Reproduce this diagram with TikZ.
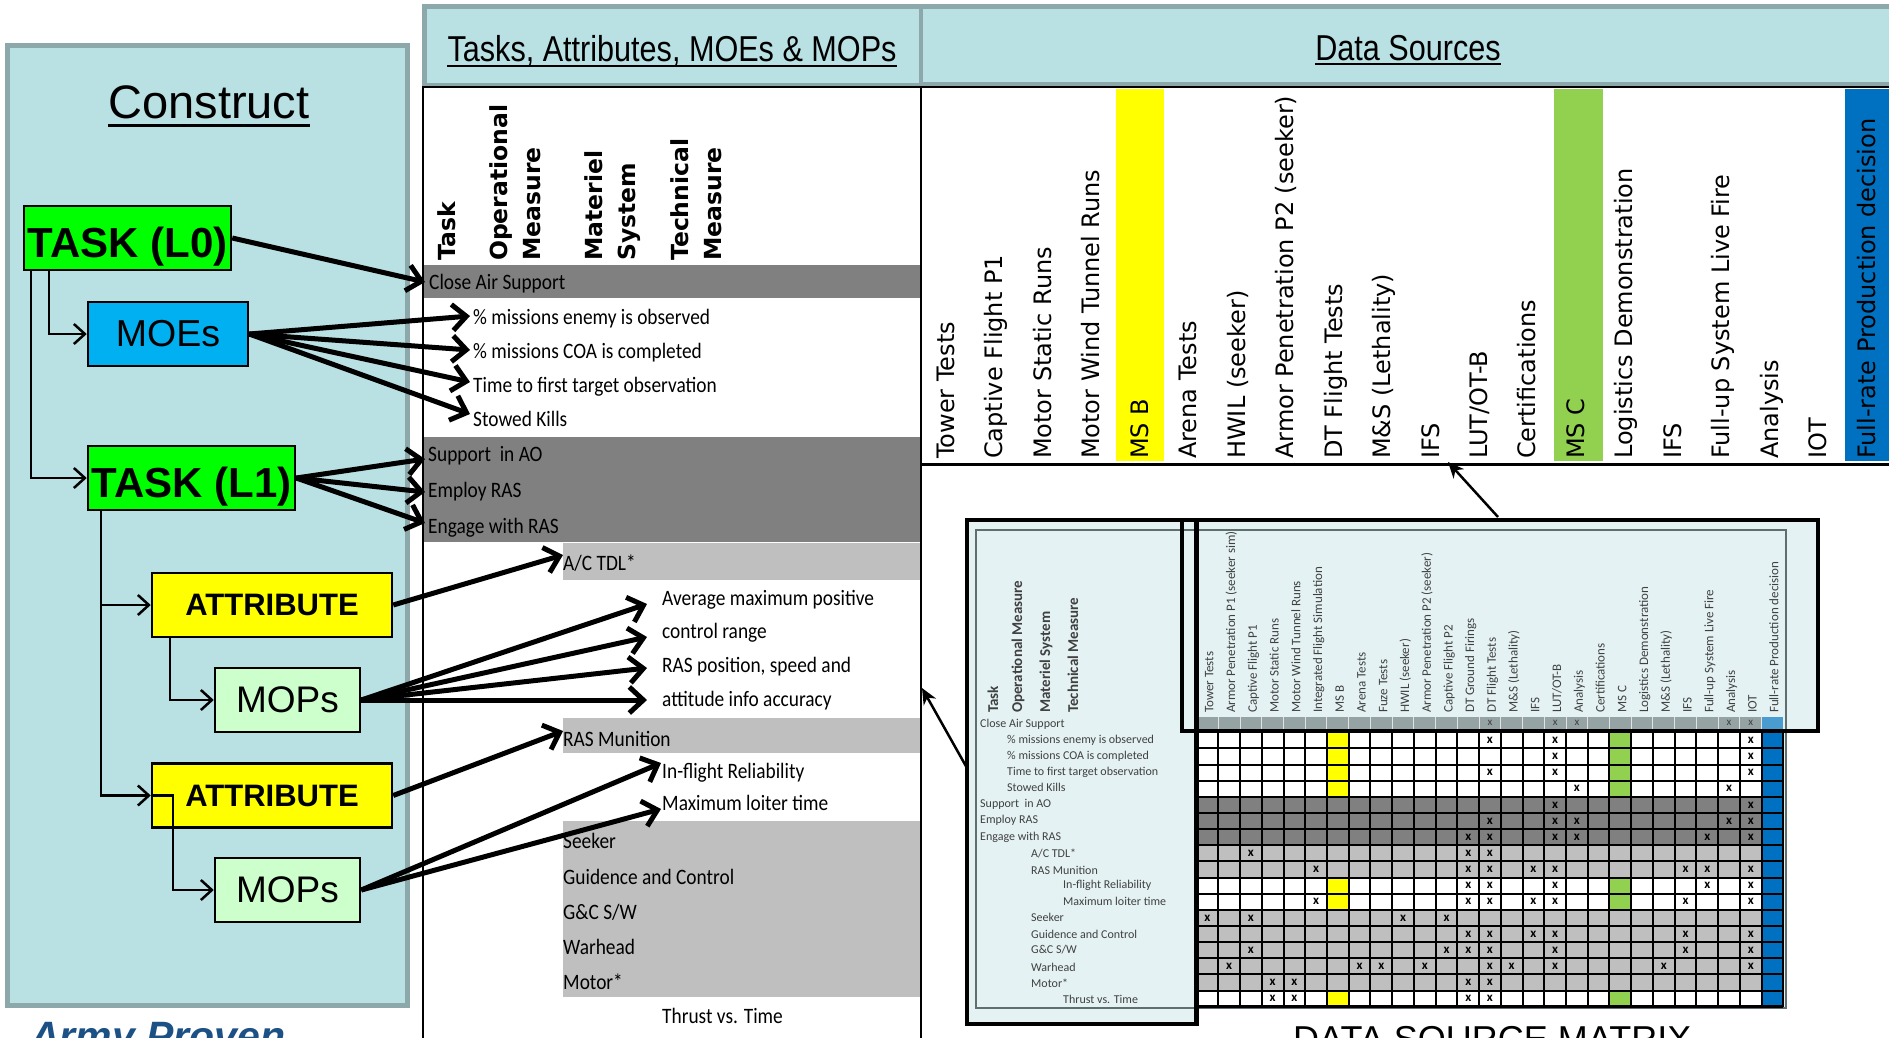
\documentclass[tikz,border=0pt]{standalone}
\usepackage{fontspec}
\setmainfont{Liberation Sans}
\newfontfamily\narrowfont[FakeStretch=0.85]{Liberation Sans}
\newfontfamily\listfont[FakeStretch=0.88]{Carlito}
\newfontfamily\calfont{Carlito}
\newfontfamily\dvfont{DejaVu Sans}
\usetikzlibrary{arrows.meta}
\newcommand\fsz[1]{\fontsize{#1pt}{#1pt}\selectfont}
\definecolor{panelbg}{HTML}{B9E0E3}
\definecolor{panelbd}{HTML}{8DA8AA}
\definecolor{boxgreen}{HTML}{00FF00}
\definecolor{boxblue}{HTML}{00B0F0}
\definecolor{boxyellow}{HTML}{FFFF00}
\definecolor{boxmint}{HTML}{CCFFCC}
\definecolor{dgray}{HTML}{808080}
\definecolor{lgray}{HTML}{BFBFBF}
\definecolor{mbg}{HTML}{E4F2F3}
\definecolor{mbd}{HTML}{5F6F6F}
\definecolor{msc}{HTML}{92D050}
\definecolor{frblue}{HTML}{0070C0}
\definecolor{hdrgray}{HTML}{95A3A4}
\definecolor{hdrblue}{HTML}{4A9BD0}
\definecolor{mtext}{HTML}{404040}
\definecolor{armyblue}{HTML}{1C5185}
\tikzset{
  cbox/.style={draw=black, line width=2.5pt, inner sep=0pt, minimum height=64pt},
  treearrow/.style={line width=2.5pt, -{Straight Barb[length=11pt,width=20pt]}},
  bigarrow/.style={line width=5pt, -{Straight Barb[length=14pt,width=26pt]}},
  ptr/.style={line width=2.5pt, -{Stealth[length=16pt,width=14pt,inset=5pt]}},
  lt/.style={anchor=west, inner sep=0pt, yshift=-3pt, font=\listfont\fsz{22}},
  mt/.style={anchor=west, inner sep=0pt, font=\calfont\fsz{12}, text=mtext},
  rothdr/.style={rotate=90, anchor=base west, inner sep=0pt, font=\dvfont\bfseries\fsz{23.5}},
  dslab/.style={rotate=90, anchor=base west, inner sep=0pt, font=\dvfont\fsz{24}},
  mcol/.style={rotate=90, anchor=base west, inner sep=0pt, font=\calfont\fsz{13}, text=mtext},
  mhdr/.style={rotate=90, anchor=base west, inner sep=0pt, font=\calfont\bfseries\fsz{15}, text=mtext},
  xmk/.style={inner sep=0pt, font=\calfont\bfseries\fsz{13}},
}
\begin{document}
\begin{tikzpicture}[x=1pt,y=-1pt]
\useasboundingbox (0,0) rectangle (1889,1037);
\clip (0,0) rectangle (1889,1037);

% ---------------- Construct panel
\draw[panelbd, fill=panelbg, line width=5pt] (7.5,45.5) rectangle (407.5,1005.5);
\node[anchor=base, inner sep=0pt, font=\fsz{47}] (ctitle) at (209,118) {Construct};
\draw[line width=3pt] ([yshift=-7pt]ctitle.base west) -- ([yshift=-7pt]ctitle.base east);

\node[cbox, fill=boxgreen, minimum width=207pt, text height=38pt, text depth=0pt, font=\bfseries\fsz{42}] (l0) at (127.5,238) {TASK (L0)};
\node[cbox, fill=boxblue, minimum width=160pt, font=\fsz{37.5}] (moes) at (168,334) {MOEs};
\node[cbox, fill=boxgreen, minimum width=207pt, text height=38pt, text depth=0pt, font=\bfseries\fsz{42}] (l1) at (191.5,478) {TASK (L1)};
\node[cbox, fill=boxyellow, minimum width=240pt, font=\bfseries\fsz{31}] (att1) at (272,605) {ATTRIBUTE};
\node[cbox, fill=boxmint, minimum width=145pt, text depth=0pt, font=\fsz{37}] (mops1) at (287.5,700) {MOPs};
\node[cbox, fill=boxyellow, minimum width=240pt, font=\bfseries\fsz{31}] (att2) at (272,795.5) {ATTRIBUTE};
\node[cbox, fill=boxmint, minimum width=145pt, text depth=0pt, font=\fsz{37}] (mops2) at (287.5,890) {MOPs};

\draw[treearrow] ([xshift=26pt]l0.south west) |- (moes.west);
\draw[treearrow] ([xshift=8pt]l0.south west) |- (l1.west);
\draw[treearrow] ([xshift=14pt]l1.south west) |- (att1.west);
\draw[treearrow] ([xshift=14pt]l1.south west) |- (att2.west);
\draw[treearrow] ([xshift=19pt]att1.south west) |- (mops1.west);
\draw[treearrow] (att2.west) -- ++(22,0) |- (mops2.west);

\node[anchor=base west, inner sep=0pt, font=\bfseries\itshape\fsz{41}, text=armyblue] (army) at (30,1050) {Army Proven};

% ---------------- header boxes
\draw[panelbd, fill=panelbg, line width=4.5pt] (424.5,6.5) rectangle (921,85);
\draw[panelbd, fill=panelbg, line width=4.5pt] (921,6.5) rectangle (1895,84);
\node[anchor=base, inner sep=0pt, font=\narrowfont\fsz{36}] (ttl) at (672,61) {Tasks, Attributes, MOEs \& MOPs};
\draw[line width=2.5pt] ([yshift=-5pt]ttl.base west) -- ([yshift=-5pt]ttl.base east);
\node[anchor=base, inner sep=0pt, font=\narrowfont\fsz{36}] (dsl) at (1408,60) {Data Sources};
\draw[line width=2.5pt] ([yshift=-4pt]dsl.base west) -- ([yshift=-4pt]dsl.base east);

% ---------------- middle panel
\fill[dgray] (424,265) rectangle (920,298);
\fill[dgray] (424,437) rectangle (920,542);
\fill[lgray] (563,543) rectangle (920,580);
\fill[lgray] (563,718) rectangle (920,753);
\fill[lgray] (563,821) rectangle (920,997);

\node[rothdr] (mh1) at (455,261) {Task};
\node[rothdr] (mh2) at (507,261) {Operational};
\node[rothdr] (mh3) at (540,261) {Measure};
\node[rothdr] (mh4) at (602,261) {Materiel};
\node[rothdr] (mh5) at (635,261) {System};
\node[rothdr] (mh6) at (688,261) {Technical};
\node[rothdr] (mh7) at (721,261) {Measure};

\node[lt] (cas) at (429,281) {Close Air Support};
\node[lt] (m1) at (473,316) {\% missions enemy is observed};
\node[lt] (m2) at (473,350) {\% missions COA is completed};
\node[lt] (m3) at (473,384) {Time to first target observation};
\node[lt] (m4) at (473,416) {Stowed Kills};
\node[lt] (s1) at (428,453) {Support~ in AO};
\node[lt] (s2) at (428,489) {Employ RAS};
\node[lt] (s3) at (428,525) {Engage with RAS};
\node[lt] (a1) at (563,560) {A/C TDL*};
\node[lt] (p1) at (662,597) {Average maximum positive};
\node[lt] (p2) at (662,630) {control range};
\node[lt] (p3) at (662,664) {RAS position, speed and};
\node[lt] (p4) at (662,698) {attitude info accuracy};
\node[lt] (r1) at (563,736) {RAS Munition};
\node[lt] (r2) at (662,770) {In-flight Reliability};
\node[lt] (r3) at (662,800) {Maximum loiter time};
\node[lt] (k1) at (563,838) {Seeker};
\node[lt] (k2) at (563,874) {Guidence and Control};
\node[lt] (k3) at (563,909) {G\&C S/W};
\node[lt] (k4) at (563,944) {Warhead};
\node[lt] (k5) at (563,979) {Motor*};
\node[lt] (k6) at (662,1013) {Thrust vs. Time};

% ---------------- data sources
\fill[boxyellow] (1116,89) rectangle (1164,461);
\fill[msc] (1554,89) rectangle (1603,461);
\fill[frblue] (1845,89) rectangle (1892,461);
\foreach [count=\i from 0] \lab in {Tower Tests, Captive Flight P1, Motor Static Runs, Motor Wind Tunnel Runs, MS B, Arena Tests, HWIL (seeker), Armor Penetration P2 (seeker), DT Flight Tests, M\&S (Lethality), IFS, LUT/OT-B, Certifications, MS C, Logistics Demonstration, IFS, Full-up System Live Fire, Analysis, IOT, Full-rate Production decision}
  \node[dslab] (ds\i) at ({954.5+48.45*\i},459) {\lab};

% black frame lines
\draw[line width=2pt] (422.5,1040) -- (422.5,87) -- (1895,87);
\draw[line width=2pt] (921,87) -- (921,1040);
\draw[line width=3pt] (921,464) -- (1895,464);

% ---------------- data source matrix
\def\mx{1196.6}\def\cw{21.73}\def\my{732.3}\def\rh{16.14}
\fill[mbg] (967,520) rectangle (1196.5,1024);
\fill[mbg] (1182,520) rectangle (1818,731);
\draw[mbd, fill=mbg, line width=1.5pt] (976,530) rectangle (1786,1008);

\foreach \r/\col in {1/white,2/white,3/white,4/white,5/dgray,6/dgray,7/dgray,8/lgray,9/lgray,10/white,11/white,12/lgray,13/lgray,14/lgray,15/lgray,16/lgray,17/white}
  \fill[\col] (\mx,{\my+\rh*(\r-1)}) rectangle (1783.3,{\my+\rh*\r});
\foreach \r in {1,2,3,4,10,11,17} {
  \fill[boxyellow] ({\mx+\cw*6},{\my+\rh*(\r-1)}) rectangle ({\mx+\cw*7},{\my+\rh*\r});
  \fill[msc] ({\mx+\cw*19},{\my+\rh*(\r-1)}) rectangle ({\mx+\cw*20},{\my+\rh*\r});
}
\fill[frblue] ({\mx+\cw*26},\my) rectangle (1783.3,1006.7);
\foreach \r in {0,...,17}
  \draw[line width=2pt] (\mx,{\my+\rh*\r}) -- (1783.3,{\my+\rh*\r});
\foreach \c in {0,...,27}
  \draw[line width=2pt] ({\mx+\cw*\c},\my) -- ({\mx+\cw*\c},1006.7);
\draw[line width=3pt] (\mx,1006.7) -- (1783.3,1006.7);

\foreach \r/\cs in {1/{14,17,26},2/{17,26},3/{14,17,26},4/{18,25},5/{17,26},6/{14,17,18,25,26},7/{13,14,17,18,24,26},8/{3,13,14},9/{6,13,14,16,17,23,24,26},10/{13,14,17,24,26},11/{6,13,14,16,17,23,26},12/{1,3,10,12},13/{13,14,16,17,23,26},14/{3,12,13,14,17,23,26},15/{2,8,9,11,14,15,17,22,26},16/{4,5,13,14},17/{4,5,13,14}}
  {\foreach \c in \cs {\node[xmk] (x\r-\c) at ({\mx+\cw*(\c-0.5)},{\my+\rh*(\r-0.5)}) {x};}}

% header row
\fill[hdrgray] (\mx,716.5) rectangle ({\mx+\cw*26},729);
\fill[hdrblue] ({\mx+\cw*26},716.5) rectangle (1783.3,729);
\foreach \c in {1,...,26}
  \draw[white!70!hdrgray, line width=1pt] ({\mx+\cw*\c},716.5) -- ({\mx+\cw*\c},729);
\foreach \c in {14,17,18,25,26}
  \node[inner sep=0pt, font=\calfont\fsz{11}, text=mtext] (hx\c) at ({\mx+\cw*(\c-0.5)},722.5) {x};

\foreach [count=\i] \lab in {Tower Tests, Armor Penetration P1 (seeker sim), Captive Flight P1, Motor Static Runs, Motor Wind Tunnel Runs, Integrated Flight Simulation, MS B, Arena Tests, Fuze Tests, HWIL (seeker), Armor Penetration P2 (seeker), Captive Flight P2, DT Ground Firings, DT Flight Tests, M\&S (Lethality), IFS, LUT/OT-B, Analysis, Certifications, MS C, Logistics Demonstration, M\&S (Lethality), IFS, Full-up System Live Fire, Analysis, IOT, Full-rate Production decision}
  \node[mcol] (mc\i) at ({\mx+\cw*(\i-0.5)+6},713) {\lab};

\node[mhdr] (mp1) at (998,713) {Task};
\node[mhdr] (mp2) at (1022,713) {Operational Measure};
\node[mhdr] (mp3) at (1050,713) {Materiel System};
\node[mhdr] (mp4) at (1078,713) {Technical Measure};

\node[mt] (lt1) at (980,724) {Close Air Support};
\node[mt] (lt2) at (1007,740) {\% missions enemy is observed};
\node[mt] (lt3) at (1007,756) {\% missions COA is completed};
\node[mt] (lt4) at (1007,772) {Time to first target observation};
\node[mt] (lt5) at (1007,787) {Stowed Kills};
\node[mt] (lt6) at (980,804) {Support~ in AO};
\node[mt] (lt7) at (980,820) {Employ RAS};
\node[mt] (lt8) at (980,837) {Engage with RAS};
\node[mt] (lt9) at (1031,853) {A/C TDL*};
\node[mt] (lt10) at (1031,870) {RAS Munition};
\node[mt] (lt11) at (1063,885) {In-flight Reliability};
\node[mt] (lt12) at (1063,901) {Maximum loiter time};
\node[mt] (lt13) at (1031,917) {Seeker};
\node[mt] (lt14) at (1031,934) {Guidence and Control};
\node[mt] (lt15) at (1031,950) {G\&C S/W};
\node[mt] (lt16) at (1031,967) {Warhead};
\node[mt] (lt17) at (1031,983) {Motor*};
\node[mt] (lt18) at (1063,999) {Thrust vs. Time};

\draw[line width=4.5pt] (967,520) rectangle (1196.5,1024);
\draw[line width=4.5pt] (1182,520) rectangle (1818,731);

\node[anchor=base west, inner sep=0pt, font=\fsz{36}] (dsm) at (1293,1051) {DATA SOURCE MATRIX};

% pointer arrows
\coordinate (mstart) at (967,768);
\coordinate (mtip) at (922,688);
\draw[ptr] (mstart) -- (mtip);
\coordinate (hstart) at (1498,517);
\coordinate (htip) at (1448,462);
\draw[ptr] (hstart) -- (htip);

% ---------------- big arrows
\coordinate (tcas) at (425,282);
\coordinate (tm1) at (470,316);
\coordinate (tm2) at (470,350);
\coordinate (tm3) at (470,382);
\coordinate (tm4) at (470,414);
\coordinate (tla) at (425,459);
\coordinate (tlb) at (425,492);
\coordinate (tlc) at (425,523);
\coordinate (ta1) at (563,555);
\coordinate (tp1) at (647,604);
\coordinate (tp2) at (647,637);
\coordinate (tp3) at (647,668);
\coordinate (tp4) at (647,700);
\coordinate (ta2) at (563,731);
\coordinate (tq1) at (661,763);
\coordinate (tq2) at (661,809);

\draw[bigarrow] (l0.east) -- (tcas);
\foreach \t in {tm1,tm2,tm3,tm4} \draw[bigarrow] (moes.east) -- (\t);
\foreach \t in {tla,tlb,tlc} \draw[bigarrow] (l1.east) -- (\t);
\draw[bigarrow] (att1.east) -- (ta1);
\foreach \t in {tp1,tp2,tp3,tp4} \draw[bigarrow] (mops1.east) -- (\t);
\draw[bigarrow] (att2.east) -- (ta2);
\foreach \t in {tq1,tq2} \draw[bigarrow] (mops2.east) -- (\t);
\end{tikzpicture}
\end{document}
